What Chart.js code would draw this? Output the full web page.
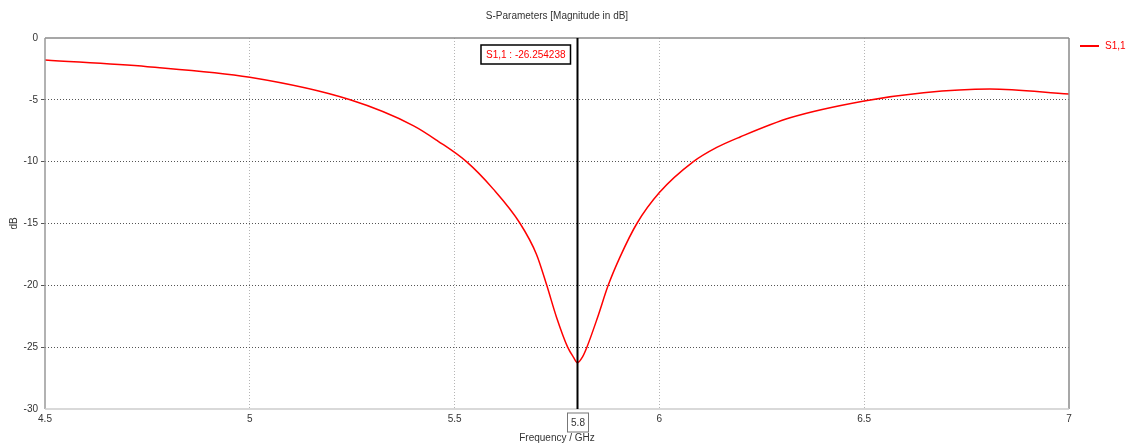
<html>
<body style="margin:0;background:#fff;">
<canvas id="sparam_chart" width="1132" height="445" style="width:1132px;height:445px;"></canvas>
<script src="https://cdn.jsdelivr.net/npm/chart.js"></script>
<script>
// S1,1 magnitude
const freqGHz = [4.5, 4.75, 5.0, 5.245, 5.4, 5.46, 5.529, 5.594, 5.66, 5.70, 5.725, 5.749, 5.776, 5.79, 5.8,
                 5.812, 5.823, 5.849, 5.875, 5.904, 5.945, 6.0, 6.083, 6.14, 6.197, 6.319, 6.5, 6.645, 6.807, 7.0];
const s11dB = [-1.78, -2.32, -3.18, -5.0, -7.1, -8.35, -10.0, -12.2, -15.0, -17.5, -20.0, -22.6, -25.0, -25.8, -26.25,
               -25.8, -25.0, -22.6, -20.0, -17.7, -15.0, -12.5, -10.0, -8.85, -8.0, -6.45, -5.09, -4.42, -4.12, -4.53];
const xTickValues = [4.5, 5, 5.5, 6, 6.5, 7];
const yTickValues = [0, -5, -10, -15, -20, -25, -30];
const markerFreq = 5.8;
const markerLabel = "S1,1 : -26.254238";
const seriesName = "S1,1";
const chartTitle = "S-Parameters [Magnitude in dB]";

const FONT = "'Liberation Sans', Arial, sans-serif";

const overlay = {
    id: "overlay",
    afterDraw(chart) {
        const ctx = chart.ctx;
        const area = chart.chartArea;
        const xs = chart.scales.x;
        ctx.save();

        // frame
        ctx.lineWidth = 1.5;
        ctx.strokeStyle = "#8a8a8a";
        ctx.beginPath();
        ctx.moveTo(area.left, area.top); ctx.lineTo(area.right, area.top);
        ctx.moveTo(area.right, area.top); ctx.lineTo(area.right, area.bottom);
        ctx.stroke();
        ctx.strokeStyle = "#999";
        ctx.beginPath();
        ctx.moveTo(area.left, area.top); ctx.lineTo(area.left, area.bottom);
        ctx.stroke();
        ctx.strokeStyle = "#ccc";
        ctx.beginPath();
        ctx.moveTo(area.left, area.bottom); ctx.lineTo(area.right, area.bottom);
        ctx.stroke();

        // title
        ctx.font = "10px " + FONT;
        ctx.fillStyle = "#333";
        ctx.textAlign = "center";
        ctx.textBaseline = "middle";
        ctx.fillText(chartTitle, (area.left + area.right) / 2, 16);

        // marker line
        const mx = Math.round(xs.getPixelForValue(markerFreq)) + 0.5;
        ctx.strokeStyle = "#000";
        ctx.lineWidth = 2;
        ctx.beginPath();
        ctx.moveTo(mx, area.top);
        ctx.lineTo(mx, area.bottom);
        ctx.stroke();

        // marker label box
        const tw = ctx.measureText(markerLabel).width;
        const bw = tw + 10, bh = 19;
        const bx = mx - 7 - bw, by = area.top + 7;
        ctx.fillStyle = "#fff";
        ctx.fillRect(bx, by, bw, bh);
        ctx.strokeStyle = "#000";
        ctx.lineWidth = 1.5;
        ctx.strokeRect(bx, by, bw, bh);
        ctx.fillStyle = "#f00";
        ctx.fillText(markerLabel, bx + bw / 2, by + bh / 2 + 1);

        // boxed 5.8 on x axis
        ctx.fillStyle = "#fff";
        ctx.fillRect(mx - 10, area.bottom + 4, 21, 19);
        ctx.strokeStyle = "#777";
        ctx.lineWidth = 1;
        ctx.strokeRect(mx - 10, area.bottom + 4, 21, 19);
        ctx.fillStyle = "#333";
        ctx.fillText(String(markerFreq), mx + 0.5, area.bottom + 14);

        // legend
        ctx.strokeStyle = "#f00";
        ctx.lineWidth = 2;
        ctx.beginPath();
        ctx.moveTo(1080, 46); ctx.lineTo(1099, 46);
        ctx.stroke();
        ctx.fillStyle = "#f00";
        ctx.textAlign = "left";
        ctx.fillText(seriesName, 1105, 46);

        ctx.restore();
    }
};

const sparamChart = new Chart(document.getElementById("sparam_chart").getContext("2d"), {
    type: "line",
    data: {
        datasets: [{
            label: seriesName,
            data: freqGHz.map((f, i) => ({ x: f, y: s11dB[i] })),
            borderColor: "#f00",
            borderWidth: 1.5,
            pointRadius: 0,
            fill: false,
            cubicInterpolationMode: "monotone"
        }]
    },
    options: {
        responsive: false,
        animation: false,
        layout: { padding: { top: 38, right: 63, left: 8, bottom: 0 } },
        plugins: {
            legend: { display: false },
            title: { display: false },
            tooltip: { enabled: false }
        },
        scales: {
            x: {
                type: "linear",
                min: 4.5,
                max: 7,
                afterBuildTicks: (scale) => { scale.ticks = xTickValues.map(v => ({ value: v })); },
                afterFit: (scale) => { scale.height = 36; },
                ticks: {
                    color: "#333",
                    font: { family: FONT, size: 10 },
                    padding: 4,
                    maxRotation: 0,
                    callback: (v) => String(v)
                },
                grid: {
                    color: (c) => (c.tick && (c.tick.value === 4.5 || c.tick.value === 7)) ? "rgba(0,0,0,0)" : "#b5b5b5",
                    drawTicks: false
                },
                border: { display: false, dash: [1, 2] },
                title: {
                    display: true,
                    text: "Frequency / GHz",
                    color: "#333",
                    font: { family: FONT, size: 10 },
                    padding: { top: 0, bottom: 1 }
                }
            },
            y: {
                min: -30,
                max: 0,
                afterBuildTicks: (scale) => { scale.ticks = yTickValues.map(v => ({ value: v })); },
                afterFit: (scale) => { scale.width = 37; },
                ticks: {
                    color: "#333",
                    font: { family: FONT, size: 10 },
                    padding: 3
                },
                grid: {
                    color: (c) => (c.tick && (c.tick.value === 0 || c.tick.value === -30)) ? "rgba(0,0,0,0)" : "#555",
                    tickLength: 4
                },
                border: { display: false, dash: [1, 2] },
                title: {
                    display: true,
                    text: "dB",
                    color: "#333",
                    font: { family: FONT, size: 10 },
                    padding: { top: 0, bottom: 0 }
                }
            }
        }
    },
    plugins: [overlay]
});
</script>
</body>
</html>
